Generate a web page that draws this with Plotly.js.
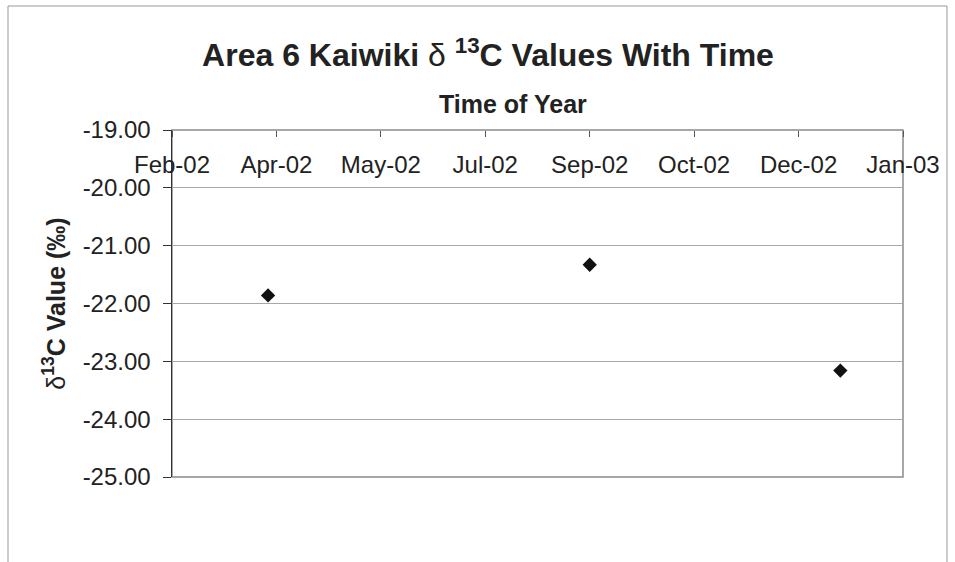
<!DOCTYPE html>
<html>
<head>
<meta charset="utf-8">
<script src="https://cdn.plot.ly/plotly-3.0.1.min.js"></script>
<style>html,body{margin:0;padding:0;background:#fff;}#chart{width:955px;height:562px;}</style>
</head>
<body>
<div id="chart"></div>
<script>
// Data
const sampleDates = ['2002-04-01', '2002-09-02', '2002-12-31'];
const d13CValues = [-21.86, -21.33, -23.16];

// Axis ticks (Excel-style date axis: 50-day major unit)
const xRange = ['2002-02-14', '2003-01-30'];
const xTick0 = '2002-02-14';
const xTickDays = 50;
const yTickVals = [-25, -24, -23, -22, -21, -20, -19];
const yTickText = ['-25.00', '-24.00', '-23.00', '-22.00', '-21.00', '-20.00', '-19.00'];

const FONT = 'Liberation Sans, Arial, sans-serif';
const TXT = '#222';

const trace = {
  type: 'scatter',
  mode: 'markers',
  x: sampleDates,
  y: d13CValues,
  marker: {symbol: 'diamond', size: 11, color: '#111'},
  hoverinfo: 'x+y',
  showlegend: false
};

const layout = {
  width: 955,
  height: 562,
  margin: {l: 172, r: 52, t: 130, b: 85},
  paper_bgcolor: '#fff',
  plot_bgcolor: '#fff',
  font: {family: FONT, color: TXT, size: 24},
  title: {
    text: 'Area 6 Kaiwiki <span style="font-weight:normal">δ</span> <sup>13</sup>C Values With Time',
    font: {family: FONT, size: 32, color: TXT, weight: 'bold'},
    x: 488 / 955, xanchor: 'center', xref: 'container',
    y: 1 - 55 / 562, yanchor: 'middle', yref: 'container'
  },
  xaxis: {
    type: 'date',
    range: xRange,
    tick0: xTick0,
    dtick: xTickDays * 86400000,
    tickformat: '%b-%y',
    anchor: 'free',
    position: 1,
    side: 'bottom',
    ticks: 'outside',
    ticklen: 6,
    tickcolor: '#555',
    ticklabelstandoff: 7,
    tickfont: {family: FONT, size: 24, color: TXT},
    showgrid: false,
    showline: false,
    zeroline: false,
    fixedrange: true
  },
  yaxis: {
    range: [-25, -19],
    tickmode: 'array',
    tickvals: yTickVals,
    ticktext: yTickText,
    tickfont: {family: FONT, size: 24, color: TXT},
    ticks: 'outside',
    ticklen: 8,
    tickcolor: '#333',
    ticklabelstandoff: 7,
    showline: true,
    linecolor: '#333',
    linewidth: 1.5,
    showgrid: true,
    gridcolor: '#a8a8a8',
    gridwidth: 1,
    zeroline: false,
    fixedrange: true,
    title: {
      text: '<span style="font-weight:normal">δ</span><sup>13</sup>C Value (‰)',
      font: {family: FONT, size: 25, color: TXT, weight: 'bold'},
      standoff: 10
    }
  },
  annotations: [{
    text: 'Time of Year',
    xref: 'paper', yref: 'paper',
    x: (513 - 172) / (955 - 172 - 52),
    y: 1, yshift: 26,
    xanchor: 'center', yanchor: 'middle',
    showarrow: false,
    font: {family: FONT, size: 25, color: TXT, weight: 'bold'}
  }],
  shapes: [
    {type: 'rect', xref: 'x domain', yref: 'y domain', x0: 0, x1: 1, y0: 0, y1: 1,
     line: {color: '#8a8a8a', width: 1.5}, layer: 'below'},
    {type: 'rect', xref: 'paper', yref: 'paper',
     x0: (8 - 172) / 731, x1: (947 - 172) / 731, y0: -0.3, y1: 1 + (130 - 6) / 347,
     line: {color: '#999', width: 1}, layer: 'below'}
  ]
};

Plotly.newPlot('chart', [trace], layout, {displayModeBar: false, staticPlot: true});
</script>
</body>
</html>
